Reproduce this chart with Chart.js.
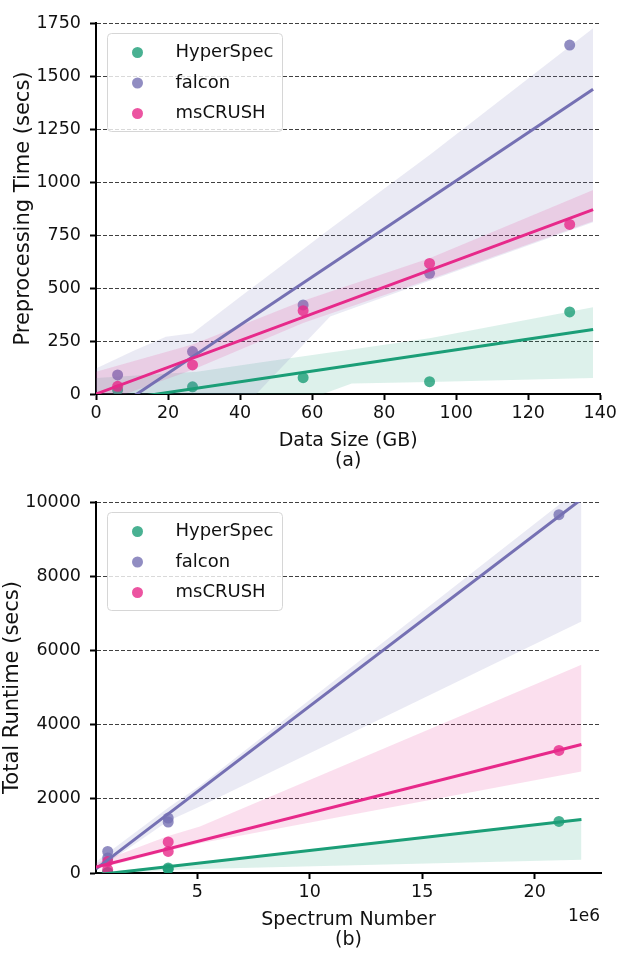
<!DOCTYPE html>
<html>
<head>
<meta charset="utf-8">
<script src="https://cdn.jsdelivr.net/npm/chart.js@4.4.1/dist/chart.umd.min.js"></script>
<style>
  html, body { margin: 0; padding: 0; background: #fff; }
  .panel { position: relative; width: 620px; height: 477px; }
</style>
</head>
<body>
<div class="panel"><canvas id="chart-a" width="620" height="477"></canvas></div>
<div class="panel"><canvas id="chart-b" width="620" height="477"></canvas></div>
<script>
'use strict'

const SERIES = ['HyperSpec', 'falcon', 'msCRUSH']
const RGB = ['27, 158, 119', '117, 112, 179', '231, 41, 138']

// (a) preprocessing time vs data size (GB)
const sizeGB = [6.0, 26.8, 57.5, 92.6, 131.5]
const preHyperSpec = [19, 34, 77, 58, 387]
const preFalcon = [90, 200, 420, 569, 1646]
const preMsCrush = [36, 137, 393, 616, 800]

// fitted lines, read at both ends
const fitXa = [0, 138]
const fitHyperSpecA = [-43, 304]
const fitFalconA = [-129, 1438]
const fitMsCrushA = [0, 870]

// confidence bands (upper / lower edge)
const bandHyperSpecXa = [0, 28, 45, 63, 71, 92.6, 138]
const bandHyperSpecHiA = [75, 105, 147, 191, 210, 263, 409]
const bandHyperSpecLoA = [-400, -220, -115, 0, 50, 57, 76]
const bandFalconXa = [0, 10, 19.4, 26.8, 42.5, 44.5, 65, 92.6, 138]
const bandFalconHiA = [120, 200, 270, 286, 490, 515, 780, 1127, 1725]
const bandFalconLoA = [-800, -620, -451, -318, -36, 0, 365, 534, 810]
const bandMsCrushXa = [0, 27, 57.5, 92.6, 138]
const bandMsCrushHiA = [105, 235, 440, 640, 962]
const bandMsCrushLoA = [-50, 115, 335, 540, 815]

// (b) total runtime vs spectrum number (x 1e6)
const specNum = [1.02, 1.02, 3.71, 3.71, 21.08]
const runHyperSpec = [16, 10, 135, 100, 1391]
const runFalcon = [582, 404, 1482, 1375, 9658]
const runMsCrush = [313, 89, 836, 582, 3305]

const fitXb = [0.5, 22.08]
const fitHyperSpecB = [-50, 1440]
const fitFalconB = [111, 10074]
const fitMsCrushB = [160, 3465]

const bandXb = [0.5, 3.71, 5.12, 22.08]
const bandHyperSpecHiB = [10, 190, 290, 1470]
const bandHyperSpecLoB = [-60, 80, 108, 358]
const bandFalconHiB = [300, 1760, 2350, 10400]
const bandFalconLoB = [60, 1400, 1795, 6782]
const bandMsCrushHiB = [260, 1000, 1256, 5615]
const bandMsCrushLoB = [100, 600, 800, 2739]

const FONT = "'DejaVu Sans', 'Liberation Sans', sans-serif"
Chart.defaults.font.family = FONT
Chart.defaults.color = '#111'


function rgba (i, a) {
  return 'rgba(' + RGB[i] + ', ' + a + ')'
}

function pts (xs, ys) {
  return xs.map((x, i) => ({x: x, y: ys[i]}))
}


function buildDatasets (xs, values, fitX, fits, bandXs, bandHi, bandLo) {
  const sets = []
  let layer = 100

  // seaborn order: scatter + band per method, then the fit lines on top
  SERIES.forEach((name, s) => {
    sets.push({
      type: 'scatter',
      label: name,
      data: pts(xs, values[s]),
      backgroundColor: rgba(s, 0.8),
      borderWidth: 0,
      pointRadius: 5.5,
      order: layer--
    })
    sets.push({
      type: 'line',
      label: name + ' ci',
      data: pts(bandXs[s], bandHi[s]),
      borderWidth: 0,
      pointRadius: 0,
      tension: 0,
      fill: '+1',
      backgroundColor: rgba(s, 0.15),
      order: layer--
    })
    sets.push({
      type: 'line',
      label: name + ' ci low',
      data: pts(bandXs[s], bandLo[s]),
      borderWidth: 0,
      pointRadius: 0,
      tension: 0,
      fill: false,
      order: layer--
    })
  })
  SERIES.forEach((name, s) => {
    sets.push({
      type: 'line',
      label: name + ' fit',
      data: pts(fitX, fits[s]),
      borderColor: 'rgb(' + RGB[s] + ')',
      borderWidth: 3,
      pointRadius: 0,
      tension: 0,
      fill: false,
      order: layer--
    })
  })
  return sets
}


const frameLegend = {
  id: 'frameLegend',
  afterDraw (chart, args, opts) {
    const ctx = chart.ctx
    const area = chart.chartArea
    const left = area.left + 11.5
    const top = area.top + 10.5
    const w = 175
    const h = 98
    const r = 4

    ctx.save()
    ctx.beginPath()
    ctx.roundRect(left, top, w, h, r)
    ctx.fillStyle = 'rgba(255, 255, 255, 0.8)'
    ctx.fill()
    ctx.lineWidth = 1
    ctx.strokeStyle = '#d6d6d6'
    ctx.stroke()

    ctx.font = '18px ' + FONT
    ctx.textBaseline = 'middle'
    ctx.textAlign = 'left'
    SERIES.forEach((name, i) => {
      const y = top + 19 + i * 30.5
      ctx.beginPath()
      ctx.arc(left + 30, y, 5.5, 0, Math.PI * 2)
      ctx.fillStyle = rgba(i, 0.8)
      ctx.fill()
      ctx.fillStyle = '#111'
      ctx.fillText(name, left + 68, y)
    })

    if (opts.offsetText) {
      ctx.font = '17px ' + FONT
      ctx.textAlign = 'right'
      ctx.fillText(opts.offsetText, area.right - 1, area.bottom + 44)
    }
    ctx.restore()
  }
}


function drawPanel (id, conf) {
  const ctx = document.getElementById(id).getContext('2d')
  return new Chart(ctx, {
    type: 'scatter',
    data: {datasets: conf.datasets},
    options: {
      responsive: false,
      animation: false,
      events: [],
      layout: {padding: {top: conf.top, right: 19, left: 0, bottom: 0}},
      plugins: {
        legend: {display: false},
        tooltip: {enabled: false},
        frameLegend: {offsetText: conf.offsetText}
      },
      scales: {
        x: {
          type: 'linear',
          min: conf.xMin,
          max: conf.xMax,
          afterFit: (scale) => { scale.height = conf.xHeight },
          ticks: {
            stepSize: conf.xStep,
            includeBounds: false,
            padding: 3,
            font: {size: 17.5},
            color: '#111',
            callback: (v) => String(v)
          },
          grid: {drawOnChartArea: false, drawTicks: true, tickLength: 6, tickColor: '#000', tickWidth: 2},
          border: {color: '#000', width: 2},
          title: {
            display: true,
            text: conf.xTitle,
            font: {size: 19, lineHeight: '20px'},
            color: '#111',
            padding: {top: 0, bottom: conf.xTitlePad}
          }
        },
        y: {
          type: 'linear',
          min: 0,
          max: conf.yMax,
          afterFit: (scale) => { scale.width = 96 },
          ticks: {
            stepSize: conf.yStep,
            padding: 9,
            font: {size: 17.5},
            color: '#111',
            callback: (v) => String(v)
          },
          grid: {color: 'rgba(0, 0, 0, 0.75)', lineWidth: 1, tickLength: 6, tickColor: '#000', tickWidth: 2, tickBorderDash: []},
          border: {color: '#000', width: 2, dash: [4, 2]},
          title: {
            display: true,
            text: conf.yTitle,
            font: {size: 21},
            color: '#111',
            padding: {top: conf.yTitlePad, bottom: 0}
          }
        }
      }
    },
    plugins: [frameLegend]
  })
}


drawPanel('chart-a', {
  datasets: buildDatasets(
    sizeGB, [preHyperSpec, preFalcon, preMsCrush],
    fitXa, [fitHyperSpecA, fitFalconA, fitMsCrushA],
    [bandHyperSpecXa, bandFalconXa, bandMsCrushXa],
    [bandHyperSpecHiA, bandFalconHiA, bandMsCrushHiA],
    [bandHyperSpecLoA, bandFalconLoA, bandMsCrushLoA]
  ),
  top: 23,
  xMin: 0,
  xMax: 140,
  xStep: 20,
  xHeight: 83,
  xTitle: ['Data Size (GB)', '(a)'],
  xTitlePad: 6,
  yMax: 1750,
  yStep: 250,
  yTitle: 'Preprocessing Time (secs)',
  yTitlePad: 11
})

drawPanel('chart-b', {
  datasets: buildDatasets(
    specNum, [runHyperSpec, runFalcon, runMsCrush],
    fitXb, [fitHyperSpecB, fitFalconB, fitMsCrushB],
    [bandXb, bandXb, bandXb],
    [bandHyperSpecHiB, bandFalconHiB, bandMsCrushHiB],
    [bandHyperSpecLoB, bandFalconLoB, bandMsCrushLoB]
  ),
  top: 25,
  xMin: 0.5,
  xMax: 22.95,
  xStep: 5,
  xHeight: 81,
  xTitle: ['Spectrum Number', '(b)'],
  xTitlePad: 4,
  yMax: 10000,
  yStep: 2000,
  yTitle: 'Total Runtime (secs)',
  yTitlePad: 0,
  offsetText: '1e6'
})
</script>
</body>
</html>
